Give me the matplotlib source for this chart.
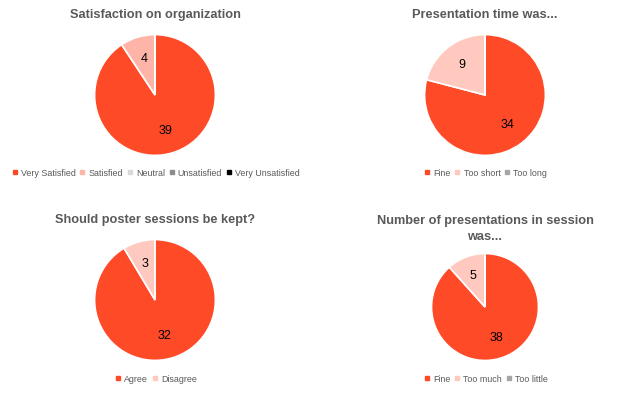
import matplotlib
matplotlib.use("Agg")
import matplotlib.pyplot as plt
from matplotlib.lines import Line2D

plt.rcParams["font.family"] = ["Liberation Sans", "DejaVu Sans"]

# survey answers, one block per chart
org_labels = ["Very Satisfied", "Satisfied", "Neutral", "Unsatisfied", "Very Unsatisfied"]
org_values = [39, 4, 0, 0, 0]
org_colors = ["#FF4A28", "#FFB4A8", "#D9D9D9", "#8C8C8C", "#000000"]

time_labels = ["Fine", "Too short", "Too long"]
time_values = [34, 9, 0]
time_colors = ["#FF4A28", "#FFC9C0", "#A6A6A6"]

poster_labels = ["Agree", "Disagree"]
poster_values = [32, 3]
poster_colors = ["#FF4A28", "#FFC9C0"]

count_labels = ["Fine", "Too much", "Too little"]
count_values = [38, 5, 0]
count_colors = ["#FF4A28", "#FFC9C0", "#A6A6A6"]

W, H = 640, 393
GREY = "#595959"


def panel(fig, title, labels, values, colors, cx, cy, r, ty, ly):
    ax = fig.add_axes([(cx - r) / W, (H - cy - r) / H, 2 * r / W, 2 * r / H])
    total = sum(values)
    ax.pie(values, colors=colors, startangle=90, counterclock=False,
           autopct=lambda p: f"{round(p * total / 100)}" if p > 0 else "",
           pctdistance=0.62, wedgeprops=dict(edgecolor="white", linewidth=1.2),
           textprops=dict(fontsize=9, color="#000000"))
    ax.set_xlim(-1.01, 1.01)
    ax.set_ylim(-1.01, 1.01)
    ax.set_aspect("equal")
    fig.text(cx / W, 1 - ty / H, title, ha="center", va="center",
             fontsize=9.2, fontweight="bold", color=GREY, linespacing=1.4)
    handles = [Line2D([], [], marker="s", linestyle="none", markersize=3,
                      markerfacecolor=c, markeredgecolor=c) for c in colors]
    fig.legend(handles, labels, loc="center", ncol=len(labels),
               bbox_to_anchor=(cx / W, 1 - ly / H), frameon=False,
               fontsize=6.4, labelcolor=GREY, handletextpad=0.2,
               columnspacing=0.25, handlelength=1.0)


fig = plt.figure(figsize=(6.4, 3.93), dpi=100)
panel(fig, "Satisfaction on organization", org_labels, org_values, org_colors,
      155, 95, 61, 15, 173)
panel(fig, "Presentation time was...", time_labels, time_values, time_colors,
      485, 95, 61, 15, 173)
panel(fig, "Should poster sessions be kept?", poster_labels, poster_values,
      poster_colors, 155, 300, 61, 220, 379)
panel(fig, "Number of presentations in session\nwas...", count_labels,
      count_values, count_colors, 485, 307, 54, 229, 379)

fig.savefig("out.png", dpi=100)
